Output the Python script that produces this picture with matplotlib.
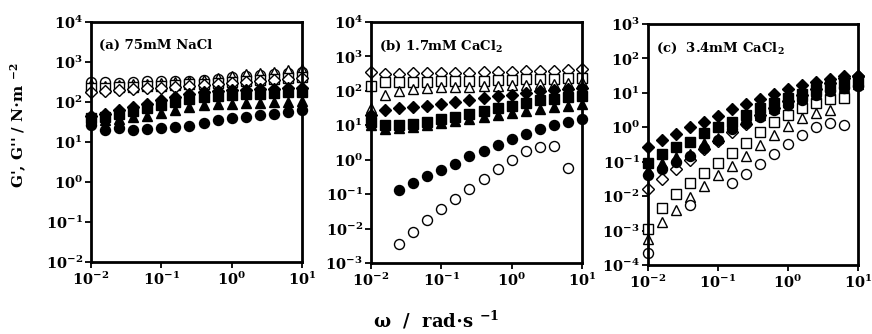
import numpy as np
import matplotlib
matplotlib.use("Agg")
import matplotlib.pyplot as plt
from matplotlib.ticker import LogLocator, FuncFormatter, NullLocator

plt.rcParams['font.family'] = 'DejaVu Serif'
plt.rcParams['font.weight'] = 'bold'
plt.rcParams['mathtext.fontset'] = 'dejavuserif'
plt.rcParams['mathtext.default'] = 'bf'

# angular frequency, rad/s (16 points per panel)
omega = [0.01, 0.0158, 0.0251, 0.0398, 0.0631, 0.1, 0.158, 0.251,
         0.398, 0.631, 1.0, 1.58, 2.51, 3.98, 6.31, 10.0]
nan = np.nan

# log10 of moduli
# (a) 75mM NaCl
a_open_circle = [2.50, 2.50, 2.48, 2.50, 2.52, 2.52, 2.53, 2.53, 2.55, 2.58, 2.62, 2.65, 2.67, 2.69, 2.72, 2.75]
a_open_tri = [2.45, 2.40, 2.42, 2.44, 2.46, 2.48, 2.50, 2.52, 2.55, 2.60, 2.65, 2.70, 2.73, 2.76, 2.80, 2.83]
a_open_square = [2.35, 2.36, 2.37, 2.38, 2.40, 2.41, 2.42, 2.44, 2.46, 2.48, 2.50, 2.53, 2.55, 2.58, 2.60, 2.63]
a_open_diamond = [2.25, 2.28, 2.30, 2.32, 2.34, 2.36, 2.38, 2.40, 2.42, 2.45, 2.48, 2.50, 2.52, 2.55, 2.57, 2.60]
a_fill_diamond = [1.65, 1.70, 1.80, 1.88, 1.95, 2.05, 2.12, 2.20, 2.25, 2.28, 2.30, 2.30, 2.32, 2.33, 2.35, 2.36]
a_fill_square = [1.60, 1.62, 1.70, 1.78, 1.85, 1.92, 2.00, 2.07, 2.12, 2.15, 2.18, 2.20, 2.21, 2.22, 2.24, 2.26]
a_fill_tri = [1.55, 1.55, 1.58, 1.62, 1.65, 1.72, 1.80, 1.87, 1.93, 1.95, 1.96, 1.97, 1.98, 1.99, 2.00, 2.02]
a_fill_circle = [1.42, 1.30, 1.36, 1.30, 1.32, 1.35, 1.38, 1.41, 1.48, 1.54, 1.59, 1.63, 1.67, 1.71, 1.76, 1.80]

# (b) 1.7mM CaCl2
b_open_diamond = [2.55, 2.50, 2.50, 2.51, 2.52, 2.52, 2.53, 2.53, 2.54, 2.55, 2.56, 2.57, 2.58, 2.59, 2.60, 2.62]
b_open_square = [2.15, 2.25, 2.26, 2.26, 2.27, 2.28, 2.28, 2.29, 2.30, 2.31, 2.32, 2.33, 2.34, 2.35, 2.36, 2.37]
b_open_tri = [1.50, 1.88, 2.00, 2.05, 2.08, 2.10, 2.11, 2.12, 2.13, 2.14, 2.16, 2.17, 2.19, 2.21, 2.23, 2.26]
b_fill_diamond = [1.30, 1.43, 1.51, 1.53, 1.55, 1.61, 1.67, 1.74, 1.79, 1.84, 1.89, 1.94, 1.99, 2.01, 2.06, 2.09]
b_fill_square = [1.10, 1.00, 1.02, 1.05, 1.10, 1.18, 1.25, 1.33, 1.42, 1.50, 1.57, 1.65, 1.72, 1.77, 1.82, 1.86]
b_fill_tri = [1.00, 0.90, 0.92, 0.95, 1.00, 1.06, 1.12, 1.18, 1.24, 1.30, 1.35, 1.40, 1.47, 1.52, 1.57, 1.62]
b_fill_circle = [nan, nan, -0.89, -0.68, -0.48, -0.29, -0.12, 0.10, 0.25, 0.44, 0.61, 0.76, 0.90, 1.00, 1.09, 1.17]
b_open_circle = [nan, nan, -2.44, -2.10, -1.74, -1.42, -1.13, -0.84, -0.55, -0.26, 0.00, 0.25, 0.37, 0.39, -0.23, nan]

# (c) 3.4mM CaCl2
c_fill_diamond = [-0.56, -0.37, -0.20, 0.00, 0.16, 0.34, 0.52, 0.67, 0.82, 0.96, 1.10, 1.23, 1.32, 1.40, 1.49, 1.49]
c_fill_square = [-1.05, -0.78, -0.56, -0.42, -0.18, 0.00, 0.16, 0.36, 0.55, 0.70, 0.86, 0.97, 1.10, 1.20, 1.28, 1.32]
c_fill_tri = [-1.25, -1.05, -0.85, -0.78, -0.47, -0.32, 0.05, 0.22, 0.36, 0.55, 0.72, 0.85, 0.98, 1.08, 1.18, 1.25]
c_fill_circle = [-1.40, -1.20, -1.00, -0.82, -0.60, -0.38, -0.05, 0.12, 0.30, 0.50, 0.65, 0.80, 0.95, 1.05, 1.15, 1.20]
c_open_diamond = [-1.80, -1.50, -1.20, -0.96, -0.64, -0.40, -0.15, 0.10, 0.35, 0.55, 0.75, 0.95, 1.12, 1.28, 1.42, 1.50]
c_open_square = [-2.95, -2.35, -1.94, -1.63, -1.34, -1.05, -0.76, -0.45, -0.13, 0.16, 0.36, 0.55, 0.70, 0.81, 0.84, nan]
c_open_tri = [-3.25, -2.74, -2.40, -2.02, -1.70, -1.39, -1.12, -0.82, -0.51, -0.22, 0.04, 0.26, 0.41, 0.50, nan, nan]
c_open_circle = [-3.66, nan, nan, -2.26, nan, nan, -1.63, -1.36, -1.07, -0.78, -0.49, -0.22, 0.02, 0.13, 0.07, nan]

panels = [
    ("(a) 75mM NaCl", (-2, 4), [
        (a_open_circle, 'o', False), (a_open_tri, '^', False),
        (a_open_square, 's', False), (a_open_diamond, 'D', False),
        (a_fill_diamond, 'D', True), (a_fill_square, 's', True),
        (a_fill_tri, '^', True), (a_fill_circle, 'o', True)]),
    ("(b) 1.7mM CaCl$_2$", (-3, 4), [
        (b_open_diamond, 'D', False), (b_open_square, 's', False),
        (b_open_tri, '^', False), (b_fill_diamond, 'D', True),
        (b_fill_square, 's', True), (b_fill_tri, '^', True),
        (b_fill_circle, 'o', True), (b_open_circle, 'o', False)]),
    ("(c)  3.4mM CaCl$_2$", (-4, 3), [
        (c_open_square, 's', False), (c_open_tri, '^', False),
        (c_open_circle, 'o', False), (c_open_diamond, 'D', False),
        (c_fill_circle, 'o', True), (c_fill_tri, '^', True),
        (c_fill_square, 's', True), (c_fill_diamond, 'D', True)]),
]

boxes = [[0.1044, 0.2156, 0.2420, 0.7186],
         [0.4255, 0.2126, 0.2420, 0.7216],
         [0.7431, 0.2066, 0.2408, 0.7216]]

fig = plt.figure(figsize=(8.72, 3.34), dpi=100)

def dec_label(v, pos):
    e = int(round(np.log10(v)))
    return "10$^{%d}$" % e

for (title, ylim, series), box in zip(panels, boxes):
    ax = fig.add_axes(box)
    for vals, m, filled in series:
        g = np.power(10.0, np.array(vals, dtype=float))
        ax.plot(omega, g, linestyle='none', marker=m,
                ms=7.2 if m != 'D' else 6.0,
                mfc='black' if filled else 'white', mec='black', mew=1.0,
                clip_on=False)
    ax.set_xscale('log')
    ax.set_yscale('log')
    ax.set_xlim(0.01, 10)
    ax.set_ylim(10.0 ** ylim[0], 10.0 ** ylim[1])
    ax.xaxis.set_major_locator(LogLocator(base=10, numticks=10))
    ax.yaxis.set_major_locator(LogLocator(base=10, numticks=12))
    ax.xaxis.set_minor_locator(NullLocator())
    ax.yaxis.set_minor_locator(NullLocator())
    ax.xaxis.set_major_formatter(FuncFormatter(dec_label))
    ax.yaxis.set_major_formatter(FuncFormatter(dec_label))
    ax.tick_params(direction='out', length=4, width=1.3, labelsize=10.5, pad=2)
    for s in ax.spines.values():
        s.set_linewidth(2.0)
    ax.text(0.04, 0.93, title, transform=ax.transAxes, ha='left', va='top',
            fontsize=9.5, fontweight='bold')

fig.text(0.022, 0.625, "G', G'' / N$\\cdot$m $^{-2}$", rotation=90,
         ha='center', va='center', fontsize=11, fontweight='bold')
fig.text(0.5, 0.04, "$\\omega$  /  rad$\\cdot$s $^{-1}$", ha='center',
         va='center', fontsize=13, fontweight='bold')

fig.savefig("out.png", dpi=100)
